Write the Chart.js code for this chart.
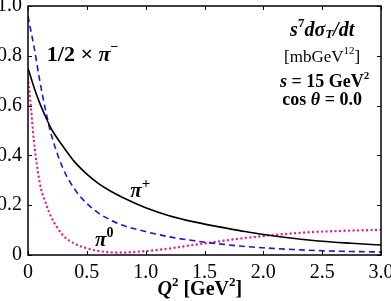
<!DOCTYPE html>
<html>
<head>
<meta charset="utf-8">
<script src="https://cdn.jsdelivr.net/npm/chart.js@4.4.0/dist/chart.umd.min.js"></script>
<style>html,body{margin:0;padding:0;background:#fff}</style>
</head>
<body>
<canvas id="myChart" width="391" height="301"></canvas>
<script>
// Q^2 grid [GeV^2] and the three curves
const q2 = [0, 0.02, 0.05, 0.1, 0.15, 0.2, 0.3, 0.4, 0.5, 0.6, 0.7, 0.8, 1.0, 1.2, 1.4, 1.6, 1.8, 2.0, 2.25, 2.5, 2.75, 3.0];
const piPlus = [0.75, 0.72, 0.675, 0.61, 0.555, 0.505, 0.435, 0.372, 0.325, 0.287, 0.257, 0.232, 0.19, 0.158, 0.134, 0.115, 0.098, 0.082, 0.067, 0.055, 0.047, 0.04];
const piMinusHalf = [0.96, 0.91, 0.84, 0.70, 0.58, 0.48, 0.345, 0.262, 0.207, 0.168, 0.141, 0.12, 0.094, 0.073, 0.058, 0.046, 0.036, 0.029, 0.022, 0.017, 0.014, 0.012];
const piZero = [0.71, 0.62, 0.46, 0.29, 0.21, 0.15, 0.078, 0.045, 0.027, 0.016, 0.011, 0.01, 0.016, 0.026, 0.04, 0.053, 0.066, 0.076, 0.087, 0.094, 0.098, 0.101];
const xTicks = [0, 0.5, 1.0, 1.5, 2.0, 2.5, 3.0];
const yTicks = [0, 0.2, 0.4, 0.6, 0.8, 1.0];

const serif = 'Liberation Serif';
const pts = arr => arr.map((v, i) => ({x: q2[i], y: v}));
const fmt = v => v === 0 ? '0' : v.toFixed(1);

// draws a row of text pieces with their own fonts / vertical offsets
function drawRuns(ctx, runs, x, y, align) {
    ctx.textBaseline = 'middle';
    ctx.textAlign = 'left';
    let w = 0;
    runs.forEach(r => { ctx.font = r.f; w += ctx.measureText(r.t).width; });
    let cx = align === 'center' ? x - w / 2 : x;
    runs.forEach(r => {
        ctx.font = r.f;
        ctx.fillText(r.t, cx, y + (r.dy || 0));
        cx += ctx.measureText(r.t).width;
    });
}

const frame = {
    id: 'frame',
    afterDraw(chart) {
        const ctx = chart.ctx, a = chart.chartArea, sx = chart.scales.x, sy = chart.scales.y;
        ctx.save();
        ctx.strokeStyle = '#000';
        ctx.lineWidth = 1.5;
        ctx.strokeRect(a.left, a.top, a.right - a.left, a.bottom - a.top);
        ctx.lineWidth = 1;
        ctx.beginPath();
        xTicks.forEach(t => {
            const p = Math.round(sx.getPixelForValue(t)) + 0.5;
            ctx.moveTo(p, a.bottom); ctx.lineTo(p, a.bottom - 4);
            ctx.moveTo(p, a.top); ctx.lineTo(p, a.top + 4);
        });
        yTicks.forEach(t => {
            const p = Math.round(sy.getPixelForValue(t)) + 0.5;
            ctx.moveTo(a.left, p); ctx.lineTo(a.left + 4, p);
            ctx.moveTo(a.right, p); ctx.lineTo(a.right - 4, p);
        });
        ctx.stroke();

        ctx.fillStyle = '#000';
        const b = s => 'bold ' + s + 'px ' + serif;
        const bi = s => 'italic bold ' + s + 'px ' + serif;
        const r = s => s + 'px ' + serif;
        const X = v => sx.getPixelForValue(v), Y = v => sy.getPixelForValue(v);

        drawRuns(ctx, [{t: 's', f: bi(20)}, {t: '7', f: b(13), dy: -7}, {t: 'd\u03C3', f: bi(20)},
            {t: 'T', f: bi(13), dy: 4}, {t: '/dt', f: bi(20)}], X(2.5), Y(0.9), 'center');
        drawRuns(ctx, [{t: '[mbGeV', f: r(17)}, {t: '12', f: r(11), dy: -6}, {t: ']', f: r(17)}], X(2.5), Y(0.795), 'center');
        drawRuns(ctx, [{t: 's', f: bi(18)}, {t: ' = 15 GeV', f: b(18)}, {t: '2', f: b(11), dy: -6}], X(2.52), Y(0.695), 'center');
        drawRuns(ctx, [{t: 'cos ', f: b(18)}, {t: '\u03B8', f: bi(18)}, {t: ' = 0.0', f: b(18)}], X(2.5), Y(0.622), 'center');

        drawRuns(ctx, [{t: '1/2 \u00D7 ', f: b(22)}, {t: '\u03C0', f: bi(22)}, {t: '\u2212', f: b(14), dy: -8}], X(0.16), Y(0.8));
        drawRuns(ctx, [{t: '\u03C0', f: bi(21)}, {t: '+', f: b(15), dy: -7}], X(0.87), Y(0.255));
        drawRuns(ctx, [{t: '\u03C0', f: bi(21)}, {t: '0', f: b(14), dy: -7}], X(0.57), Y(0.057));

        drawRuns(ctx, [{t: 'Q', f: bi(20)}, {t: '2', f: b(13), dy: -7}, {t: ' [GeV', f: b(20)},
            {t: '2', f: b(13), dy: -7}, {t: ']', f: b(20)}], X(1.46), a.bottom + 35, 'center');
        ctx.restore();
    }
};

const ctx = document.getElementById('myChart').getContext('2d');
const myChart = new Chart(ctx, {
    type: 'line',
    data: {
        datasets: [
            {
                label: 'pi+',
                data: pts(piPlus),
                borderColor: '#000000',
                borderWidth: 1.6
            },
            {
                label: 'pi- / 2',
                data: pts(piMinusHalf),
                borderColor: 'rgb(20,20,235)',
                borderWidth: 1.6,
                borderDash: [6, 4]
            },
            {
                label: 'pi0',
                data: pts(piZero),
                borderColor: 'rgb(245,20,140)',
                borderWidth: 2.4,
                borderDash: [0, 4.5],
                borderCapStyle: 'round'
            }
        ]
    },
    options: {
        responsive: false,
        animation: false,
        layout: {padding: {top: 6, right: 10, left: 0, bottom: 0}},
        elements: {
            point: {radius: 0},
            line: {cubicInterpolationMode: 'monotone'}
        },
        plugins: {legend: {display: false}, tooltip: {enabled: false}},
        scales: {
            x: {
                type: 'linear',
                min: 0, max: 3,
                afterBuildTicks: s => { s.ticks = xTicks.map(v => ({value: v})); },
                afterFit: s => { s.height = 46; s.paddingLeft = 0; s.paddingRight = 0; },
                grid: {display: false, drawTicks: false},
                border: {display: false},
                ticks: {padding: 6, color: '#000', font: {family: serif, size: 20}, callback: fmt, maxRotation: 0}
            },
            y: {
                type: 'linear',
                min: 0, max: 1,
                afterBuildTicks: s => { s.ticks = yTicks.map(v => ({value: v})); },
                afterFit: s => { s.width = 28; s.paddingTop = 0; s.paddingBottom = 0; },
                grid: {display: false, drawTicks: false},
                border: {display: false},
                ticks: {padding: 6, color: '#000', font: {family: serif, size: 20}, callback: fmt}
            }
        }
    },
    plugins: [frame]
});
</script>
</body>
</html>
